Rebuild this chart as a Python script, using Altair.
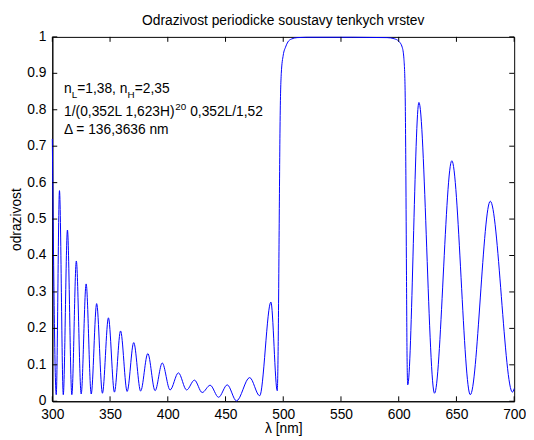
import altair as alt
import pandas as pd

FONT = "Liberation Sans"

# wavelength [nm] and reflectance (extrema and edges)
wavelength = [300.0, 303.4, 306.2, 309.5, 313.1, 316.9, 320.8, 325.0, 329.3, 333.7,
              338.4, 343.4, 348.6, 353.8, 359.1, 364.8, 370.5, 376.5, 382.7, 389.0,
              395.2, 402.0, 409.2, 416.3, 423.1, 429.8, 436.7, 444.0, 451.5, 459.5,
              470.9, 479.6, 489.3, 494.8, 495.6, 496.4, 497.2, 498.3, 500.0, 502.0,
              504.0, 507.0, 512.0, 520.0, 560.0, 590.0, 596.0, 600.0, 603.0, 604.5,
              605.5, 606.2, 606.7, 607.2, 607.8, 617.5, 631.0, 646.0, 662.0, 679.3,
              698.5, 700.0]
reflectance = [0.72, 0.018, 0.578, 0.018, 0.47, 0.018, 0.385, 0.02, 0.322, 0.02,
               0.268, 0.022, 0.229, 0.025, 0.193, 0.027, 0.161, 0.028, 0.131, 0.029,
               0.105, 0.031, 0.078, 0.031, 0.058, 0.024, 0.044, 0.011, 0.045, 0.001,
               0.065, 0.015, 0.272, 0.029, 0.15, 0.45, 0.75, 0.9, 0.95, 0.972,
               0.986, 0.994, 0.998, 0.999, 0.999, 0.998, 0.995, 0.988, 0.972, 0.94,
               0.86, 0.62, 0.36, 0.13, 0.045, 0.82, 0.022, 0.66, 0.018, 0.549,
               0.025, 0.035]

x_ticks = [300, 350, 400, 450, 500, 550, 600, 650, 700]
y_ticks = [0, 0.1, 0.2, 0.3, 0.4, 0.5, 0.6, 0.7, 0.8, 0.9, 1]
y_labels = ["0", "0.1", "0.2", "0.3", "0.4", "0.5", "0.6", "0.7", "0.8", "0.9", "1"]

TITLE = "Odrazivost periodicke soustavy tenkych vrstev"

W, H = 469, 370

df = pd.DataFrame({"lam": wavelength, "R": reflectance})
xt = pd.DataFrame({"lam": x_ticks})
yt = pd.DataFrame({"R": y_ticks, "lab": y_labels})
one = pd.DataFrame({"a": [0]})

xscale = alt.Scale(domain=[300, 700], nice=False, zero=False)
yscale = alt.Scale(domain=[0, 1], nice=False, zero=False)

common_axis = dict(domainColor="black", domainWidth=1, ticks=False, tickSize=0,
                   labelFont=FONT, labelFontSize=14, labelColor="black", grid=False,
                   titleFont=FONT, titleFontSize=14, titleFontWeight="normal",
                   titleColor="black", labelFlush=False, labelOverlap=False)

x_enc = alt.X("lam:Q", scale=xscale,
              axis=alt.Axis(values=x_ticks, title="λ [nm]", labelPadding=18,
                            labelBaseline="alphabetic",
                            titleX=W / 2, titleY=32, titleBaseline="alphabetic",
                            titleAlign="center", **common_axis))
y_enc = alt.Y("R:Q", scale=yscale,
              axis=alt.Axis(values=y_ticks, labels=False, title="odrazivost",
                            titleX=-32, titleY=H / 2, titleAngle=270,
                            titleBaseline="alphabetic", titleAlign="center",
                            **common_axis))

line = alt.Chart(df).mark_line(color="#0000ff", strokeWidth=1,
                               interpolate="monotone").encode(x=x_enc, y=y_enc)

tick_style = dict(color="black", strokeWidth=1)
xb = alt.Chart(xt).mark_rule(**tick_style).encode(
    x=x_enc, y=alt.value(H), y2=alt.value(H - 5))
xtop = alt.Chart(xt).mark_rule(**tick_style).encode(
    x=x_enc, y=alt.value(0), y2=alt.value(5))
yl = alt.Chart(yt).mark_rule(**tick_style).encode(
    y=y_enc, x=alt.value(0), x2=alt.value(5))
yr = alt.Chart(yt).mark_rule(**tick_style).encode(
    y=y_enc, x=alt.value(W), x2=alt.value(W - 5))
ylab = alt.Chart(yt).mark_text(
    align="right", baseline="middle", font=FONT, fontSize=14, color="black"
).encode(y=y_enc, x=alt.value(-6), text="lab:N")

title = alt.Chart(one).mark_text(
    text=TITLE, align="center", baseline="alphabetic", font=FONT, fontSize=14,
    color="black").encode(x=alt.value(W / 2), y=alt.value(-12))


def txt(s, line_y, dx, dy=0, size=14):
    return alt.Chart(one).mark_text(
        text=s, align="left", baseline="alphabetic", dx=dx, dy=dy,
        font=FONT, fontSize=size, color="black"
    ).encode(x=alt.datum(310.2), y=alt.datum(line_y))


L1, L2, L3 = 0.845, 0.784, 0.733
texts = [
    txt("n", L1, 0),
    txt("L", L1, 7.8, 5, 10),
    txt("=1,38, n", L1, 13.4),
    txt("H", L1, 64.4, 5, 10),
    txt("=2,35", L1, 71.7),
    txt("1/(0,352L 1,623H)", L2, 0),
    txt("20", L2, 112.9, -6, 10),
    txt("0,352L/1,52", L2, 128.0),
    txt("Δ = 136,3636 nm", L3, 0),
]

chart = alt.layer(line, xb, xtop, yl, yr, ylab, title, *texts).properties(
    width=W, height=H,
    padding={"left": 45, "top": 26, "right": 12, "bottom": 36},
    autosize=alt.AutoSizeParams(type="none"),
).configure_view(stroke="black", strokeWidth=1)

chart.save("out.html", embed_options={"renderer": "svg", "actions": False})
